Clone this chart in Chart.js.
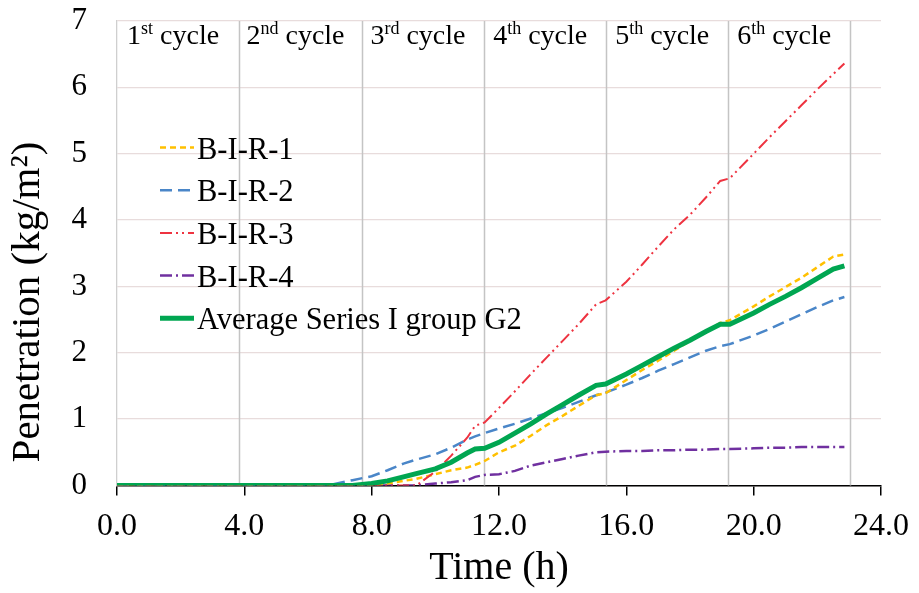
<!DOCTYPE html>
<html>
<head>
<meta charset="utf-8">
<script src="https://cdn.jsdelivr.net/npm/chart.js@4.4.1/dist/chart.umd.min.js"></script>
<style>
  html, body { margin: 0; padding: 0; background: #fff; }
  canvas { display: block; }
</style>
</head>
<body>
<canvas id="penChart" width="919" height="593"></canvas>
<script>
// time (h) and penetration (kg/m2)
var hours = [0, 6.8, 7.4, 8.0, 8.5, 9.0, 9.4, 10.0, 10.5, 11.0, 11.25, 11.55, 12.0, 12.5, 13.0, 13.5, 14.0, 14.5, 15.05, 15.35, 16.0, 16.5, 17.0, 17.5, 18.0, 18.5, 18.95, 19.25, 20.0, 20.5, 21.0, 21.5, 22.0, 22.5, 22.85];
var bir1 = [0, 0, 0, 0, 0.03, 0.07, 0.10, 0.17, 0.23, 0.27, 0.31, 0.37, 0.50, 0.60, 0.75, 0.91, 1.05, 1.20, 1.36, 1.39, 1.59, 1.74, 1.88, 2.03, 2.18, 2.32, 2.45, 2.49, 2.70, 2.85, 2.99, 3.13, 3.29, 3.45, 3.48];
var bir2 = [0, 0.02, 0.08, 0.14, 0.23, 0.33, 0.39, 0.47, 0.57, 0.69, 0.74, 0.79, 0.86, 0.93, 1.01, 1.09, 1.17, 1.26, 1.36, 1.40, 1.52, 1.62, 1.73, 1.83, 1.93, 2.03, 2.10, 2.13, 2.26, 2.36, 2.47, 2.58, 2.69, 2.79, 2.84];
var bir3 = [0, 0, 0, 0, 0, 0, 0, 0.21, 0.45, 0.72, 0.90, 0.95, 1.17, 1.42, 1.68, 1.93, 2.18, 2.43, 2.73, 2.79, 3.07, 3.33, 3.60, 3.86, 4.08, 4.34, 4.59, 4.63, 5.00, 5.25, 5.49, 5.73, 5.97, 6.20, 6.36];
var bir4 = [0, 0, 0, 0, 0, 0, 0, 0.03, 0.05, 0.08, 0.13, 0.16, 0.17, 0.22, 0.30, 0.35, 0.40, 0.45, 0.50, 0.51, 0.52, 0.52, 0.53, 0.53, 0.54, 0.54, 0.55, 0.55, 0.56, 0.57, 0.57, 0.58, 0.58, 0.58, 0.58];
var avgG2 = [0, 0, 0, 0.03, 0.07, 0.13, 0.18, 0.25, 0.35, 0.49, 0.55, 0.56, 0.65, 0.79, 0.93, 1.08, 1.22, 1.36, 1.51, 1.53, 1.68, 1.81, 1.94, 2.07, 2.19, 2.32, 2.43, 2.43, 2.60, 2.73, 2.85, 2.98, 3.12, 3.26, 3.31];

var seriesNames = ["B-I-R-1", "B-I-R-2", "B-I-R-3", "B-I-R-4", "Average Series I group G2"];

// end of each wetting/drying cycle (h)
var cycleEnds = [3.84, 7.69, 11.53, 15.37, 19.2, 23.03];
var cycleNums = ["1", "2", "3", "4", "5", "6"];
var cycleSups = ["st", "nd", "rd", "th", "th", "th"];

var yTitle = 'Penetration (kg/m²)';
var serif = '"Liberation Serif", "Times New Roman", serif';

function pts(vals) {
    return hours.map(function (h, i) { return { x: h, y: vals[i] }; });
}

// vertical cycle separators + cycle captions + y title
var cyclePlugin = {
    id: 'cycles',
    beforeDatasetsDraw: function (chart) {
        var ctx = chart.ctx, x = chart.scales.x, a = chart.chartArea;
        ctx.save();
        ctx.strokeStyle = '#c4c4c4';
        ctx.lineWidth = 1.5;
        cycleEnds.forEach(function (t) {
            var px = Math.round(x.getPixelForValue(t)) + 0.5;
            ctx.beginPath();
            ctx.moveTo(px, a.top);
            ctx.lineTo(px, a.bottom);
            ctx.stroke();
        });
        ctx.restore();
    },
    afterDraw: function (chart) {
        var ctx = chart.ctx, x = chart.scales.x, a = chart.chartArea;
        ctx.save();
        ctx.fillStyle = '#000';
        ctx.textBaseline = 'alphabetic';
        var start = 0;
        cycleEnds.forEach(function (t, i) {
            var mid = (x.getPixelForValue(start) + x.getPixelForValue(t)) / 2 - 5;
            var mainF = '28px ' + serif, supF = '18px ' + serif;
            ctx.font = mainF;
            var w1 = ctx.measureText(cycleNums[i]).width;
            var w3 = ctx.measureText(' cycle').width;
            ctx.font = supF;
            var w2 = ctx.measureText(cycleSups[i]).width;
            var left = mid - (w1 + w2 + w3) / 2;
            var base = a.top + 23;
            ctx.font = mainF;
            ctx.fillText(cycleNums[i], left, base);
            ctx.font = supF;
            ctx.fillText(cycleSups[i], left + w1, base - 10);
            ctx.font = mainF;
            ctx.fillText(' cycle', left + w1 + w2, base);
            start = t;
        });

        // y axis title sits a little below the axis centre in the original
        ctx.translate(28, 302);
        ctx.rotate(-Math.PI / 2);
        ctx.font = '41px ' + serif;
        ctx.textAlign = 'center';
        ctx.textBaseline = 'middle';
        ctx.fillText(yTitle, 0, 0);
        ctx.restore();
    }
};

// legend drawn inside the plot area
var legendPlugin = {
    id: 'innerLegend',
    afterDatasetsDraw: function (chart) {
        var ctx = chart.ctx;
        ctx.save();
        chart.data.datasets.forEach(function (ds, i) {
            var y = 147.5 + i * 42.7;
            ctx.strokeStyle = ds.borderColor;
            ctx.lineWidth = ds.borderWidth;
            ctx.setLineDash(ds.borderDash || []);
            ctx.beginPath();
            ctx.moveTo(160, y);
            ctx.lineTo(194, y);
            ctx.stroke();
            ctx.setLineDash([]);
            ctx.fillStyle = '#000';
            ctx.font = '30.5px ' + serif;
            ctx.textBaseline = 'alphabetic';
            ctx.fillText(ds.label, 197, y + 11);
        });
        ctx.restore();
    }
};

var penChart = new Chart(document.getElementById("penChart"), {
    type: 'line',
    data: {
        datasets: [{
            label: seriesNames[0],
            data: pts(bir1),
            borderColor: '#ffc000',
            borderWidth: 2.5,
            borderDash: [6, 4],
            order: 2
        }, {
            label: seriesNames[1],
            data: pts(bir2),
            borderColor: '#4a86c8',
            borderWidth: 2.5,
            borderDash: [12, 6],
            order: 3
        }, {
            label: seriesNames[2],
            data: pts(bir3),
            borderColor: '#ee3340',
            borderWidth: 2,
            borderDash: [12, 4, 2, 4, 2, 4],
            order: 1
        }, {
            label: seriesNames[3],
            data: pts(bir4),
            borderColor: '#7030a0',
            borderWidth: 2.5,
            borderDash: [12, 4, 2, 4],
            order: 4
        }, {
            label: seriesNames[4],
            data: pts(avgG2),
            borderColor: '#00a651',
            borderWidth: 5,
            order: 0
        }]
    },
    options: {
        responsive: false,
        animation: false,
        events: [],
        elements: { point: { radius: 0 }, line: { tension: 0, fill: false } },
        layout: { autoPadding: false, padding: { top: 21, right: 38, left: 0, bottom: 0 } },
        plugins: {
            legend: { display: false },
            tooltip: { enabled: false }
        },
        scales: {
            x: {
                type: 'linear',
                min: 0,
                max: 24,
                afterFit: function (s) {
                    s.height = 107.5;
                    s.paddingLeft = 0; s.paddingRight = 0;
                },
                ticks: {
                    stepSize: 4,
                    padding: 12,
                    color: '#000',
                    font: { family: serif, size: 32 },
                    callback: function (v) { return v.toFixed(1); }
                },
                grid: { drawOnChartArea: false, drawTicks: true, tickLength: 10, color: '#000', lineWidth: 1.5 },
                border: { color: '#000', width: 1.5 },
                title: {
                    display: true,
                    text: 'Time (h)',
                    color: '#000',
                    font: { family: serif, size: 40 },
                    padding: { top: 0, bottom: 1 }
                }
            },
            y: {
                min: 0,
                max: 7,
                afterFit: function (s) {
                    s.width = 117;
                    s.paddingTop = 0; s.paddingBottom = 0;
                },
                ticks: {
                    stepSize: 1,
                    padding: 30,
                    color: '#000',
                    font: { family: serif, size: 31 }
                },
                grid: { drawTicks: false, color: '#e8dcdc', lineWidth: 1.3 },
                border: { color: '#cfcfcf', width: 1.3 }
            }
        }
    },
    plugins: [cyclePlugin, legendPlugin]
});
</script>
</body>
</html>
